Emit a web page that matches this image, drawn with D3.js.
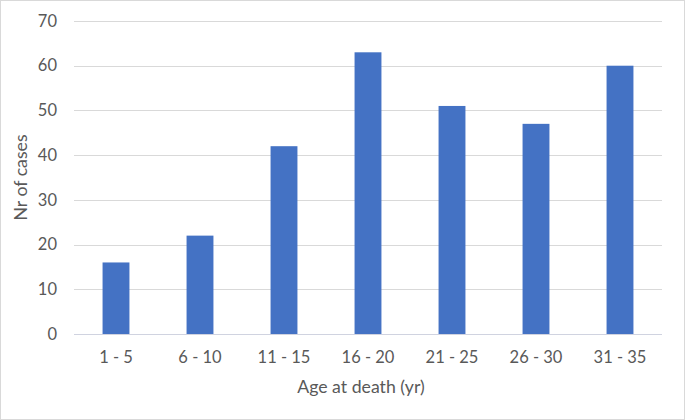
<!DOCTYPE html>
<html><head><meta charset="utf-8">
<script src="https://cdn.jsdelivr.net/npm/d3@7"></script>
<style>body{margin:0;background:#fff;}svg{display:block;}</style>
</head><body>
<script>
const categories = ["1 - 5","6 - 10","11 - 15","16 - 20","21 - 25","26 - 30","31 - 35"];
const values = [16, 22, 42, 63, 51, 47, 60];
const yTicks = [0,10,20,30,40,50,60,70];
const xTitle = "Age at death (yr)";
const yTitle = "Nr of cases";

const W = 685, H = 420;
const m = {left:74, right:23, top:21, bottom:86};
const svg = d3.select("body").append("svg").attr("width",W).attr("height",H);
svg.append("rect").attr("x",0.5).attr("y",0.5).attr("width",W-1).attr("height",H-1)
  .attr("fill","#fff").attr("stroke","#d9d9d9").attr("stroke-width",1);

const x = d3.scaleBand().domain(categories).range([m.left, W-m.right]).paddingInner(0.68).paddingOuter(0.34);
const y = d3.scaleLinear().domain([0,70]).range([H-m.bottom, m.top]);
const font = "Lato, 'Open Sans', sans-serif";

svg.append("g").selectAll("line").data(yTicks.filter(d=>d>0)).join("line")
  .attr("x1",m.left).attr("x2",W-m.right)
  .attr("y1",d=>Math.round(y(d))+0.5).attr("y2",d=>Math.round(y(d))+0.5)
  .attr("stroke","#d9d9d9").attr("stroke-width",1);

svg.append("g").selectAll("rect").data(values).join("rect")
  .attr("x",(d,i)=>x(categories[i])).attr("width",x.bandwidth())
  .attr("y",d=>y(d)).attr("height",d=>y(0)-y(d))
  .attr("fill","#4472c4");

svg.append("line").attr("x1",m.left).attr("x2",W-m.right)
  .attr("y1",Math.round(y(0))+0.5).attr("y2",Math.round(y(0))+0.5)
  .attr("stroke","#d0d3e0").attr("stroke-width",1.2);

svg.append("g").selectAll("text").data(yTicks).join("text")
  .attr("x",57).attr("y",d=>y(d)).attr("dy","0.35em").attr("text-anchor","end")
  .attr("font-family",font).attr("font-size",16.5).attr("fill","#595959").text(d=>d);

svg.append("g").selectAll("text").data(categories).join("text")
  .attr("x",d=>x(d)+x.bandwidth()/2).attr("y",363).attr("text-anchor","middle")
  .attr("font-family",font).attr("font-size",16.5).attr("fill","#595959").text(d=>d);

svg.append("text").attr("x",361).attr("y",393).attr("text-anchor","middle")
  .attr("font-family",font).attr("font-size",17.7).attr("fill","#595959").text(xTitle);

svg.append("text").attr("transform",`translate(27,${(m.top+H-m.bottom)/2}) rotate(-90)`)
  .attr("text-anchor","middle")
  .attr("font-family",font).attr("font-size",17.7).attr("fill","#595959").text(yTitle);
</script>
</body></html>
